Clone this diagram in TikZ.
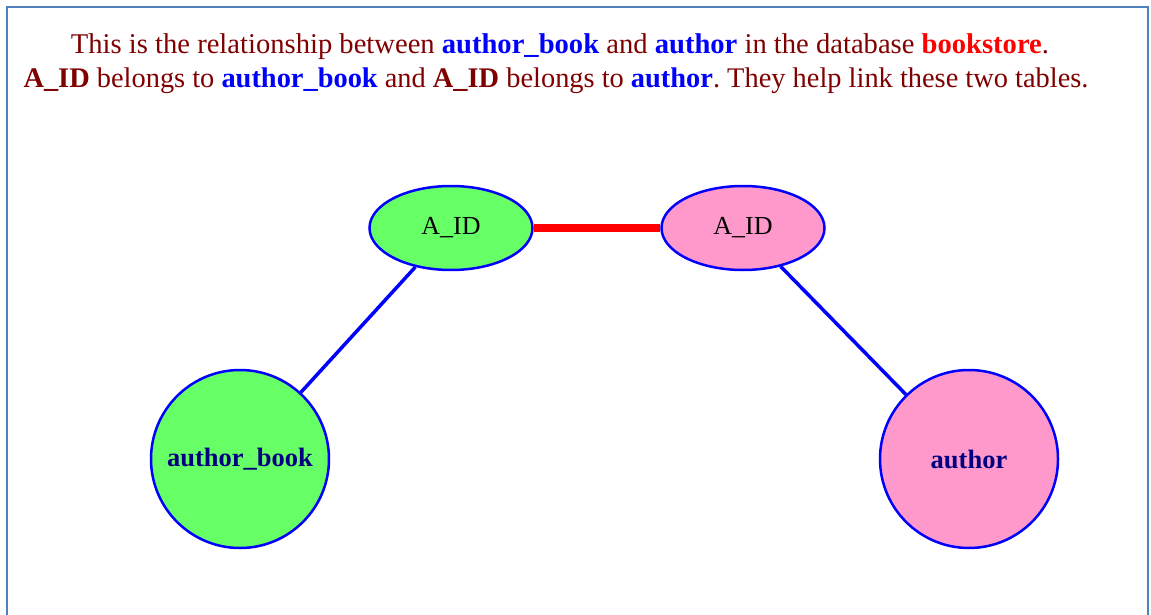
\documentclass[tikz,border=0pt]{standalone}
\usepackage{fontspec}
\setmainfont{Liberation Serif}
\usetikzlibrary{shapes.geometric}

\definecolor{maroontext}{RGB}{128,0,0}
\definecolor{framecol}{RGB}{79,129,189}
\definecolor{keygreen}{RGB}{102,255,102}
\definecolor{keypink}{RGB}{255,153,204}
\definecolor{tablenavy}{RGB}{0,0,128}

\newcommand{\tbl}[1]{\textbf{\textcolor{blue}{#1}}}
\newcommand{\fld}[1]{\textbf{#1}}
\frenchspacing

\begin{document}
\begin{tikzpicture}[x=1pt,y=-1pt,
  keynode/.style={ellipse,draw=blue,line width=2.5pt,minimum width=163pt,minimum height=84pt,
    font=\fontsize{26}{30}\selectfont},
  tablenode/.style={circle,draw=blue,line width=2.5pt,minimum size=178pt,
    font=\fontsize{26.5}{30}\selectfont\bfseries,text=tablenavy},
  linkline/.style={blue,line width=3.5pt}]

\useasboundingbox (0,0) rectangle (1151,615);
\draw[framecol,line width=2pt] (7,615) -- (7,7) -- (1148,7) -- (1148,615);

% caption
\node[text=maroontext,font=\fontsize{28.6}{32}\selectfont] (title1) at (560,47)
  {This is the relationship between \tbl{author\_book} and \tbl{author} in the database \textbf{\textcolor{red}{bookstore}}.};
\node[text=maroontext,font=\fontsize{28.4}{32}\selectfont] (title2) at (556,81)
  {\fld{A\_ID} belongs to \tbl{author\_book} and \fld{A\_ID} belongs to \tbl{author}. They help link these two tables.};

% keys and tables
\node[keynode,fill=keygreen] (lkey) at (451,228) {\raisebox{-2pt}{A\_ID}};
\node[keynode,fill=keypink] (rkey) at (743,228) {\raisebox{-2pt}{A\_ID}};
\node[tablenode,fill=keygreen] (book) at (240,459) {\raisebox{-2pt}{author\_book}};
\node[tablenode,fill=keypink] (auth) at (969,459) {author};

\draw[red,line width=8pt] (lkey) -- (rkey);
\draw[linkline] (lkey) -- (book);
\draw[linkline] (rkey) -- (auth);
\end{tikzpicture}
\end{document}
